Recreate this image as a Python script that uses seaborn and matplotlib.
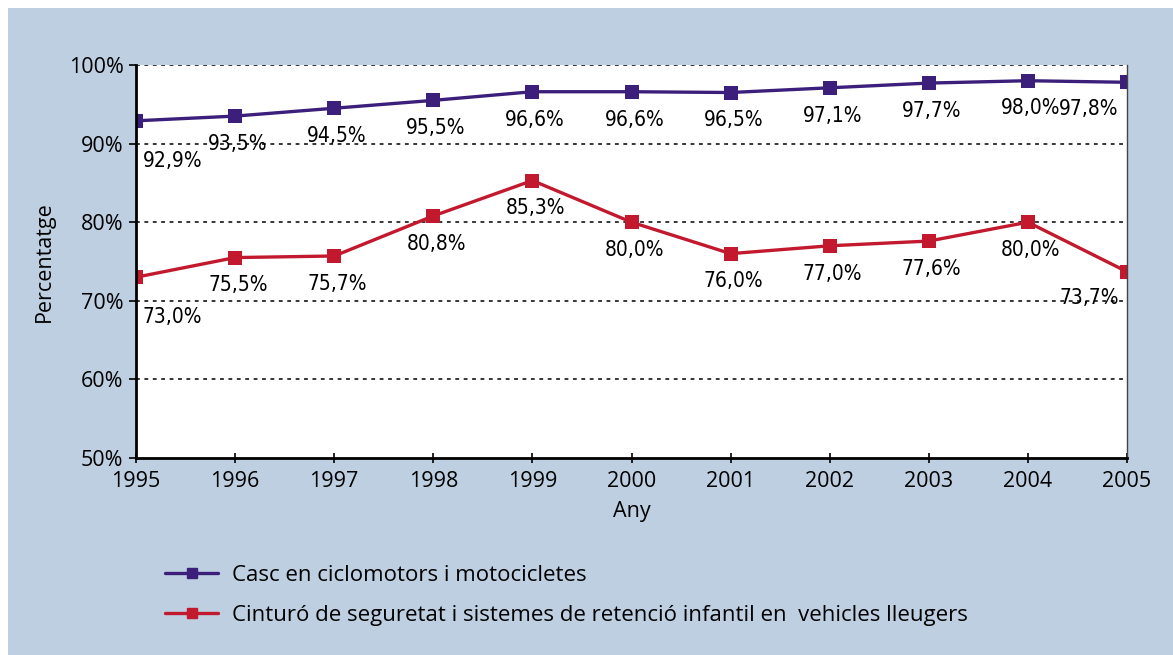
import pandas as pd
import numpy as np
import matplotlib.pyplot as plt
import seaborn as sns
from matplotlib.patches import Rectangle

# --- dades ---
anys = [1995, 1996, 1997, 1998, 1999, 2000, 2001, 2002, 2003, 2004, 2005]
casc = [92.9, 93.5, 94.5, 95.5, 96.6, 96.6, 96.5, 97.1, 97.7, 98.0, 97.8]
cinturo = [73.0, 75.5, 75.7, 80.8, 85.3, 80.0, 76.0, 77.0, 77.6, 80.0, 73.7]

serie_casc = "Casc en ciclomotors i motocicletes"
serie_cint = "Cinturó de seguretat i sistemes de retenció infantil en  vehicles lleugers"

df = pd.DataFrame({
    "Any": anys * 2,
    "Percentatge": casc + cinturo,
    "Serie": [serie_casc] * len(anys) + [serie_cint] * len(anys),
})

colors = {serie_casc: "#3B1F7A", serie_cint: "#C2192F"}
bg = "#BECFE1"

sns.set_theme(style="white")
plt.rcParams['font.family'] = ['Open Sans', 'DejaVu Sans']
plt.rcParams['text.color'] = 'black'
plt.rcParams['axes.labelcolor'] = 'black'
plt.rcParams['xtick.color'] = 'black'
plt.rcParams['ytick.color'] = 'black'

fig = plt.figure(figsize=(11.73, 6.55), dpi=100)
fig.patch.set_facecolor("white")
fig.add_artist(Rectangle((8 / 1173, 0), 1 - 8 / 1173, 1 - 8 / 655,
                         transform=fig.transFigure, facecolor=bg, edgecolor="none", zorder=-10))

ax = fig.add_axes([136 / 1173, 1 - 458 / 655, (1127 - 136) / 1173, (458 - 65) / 655])
ax.set_facecolor("white")

sns.lineplot(data=df, x="Any", y="Percentatge", hue="Serie", palette=colors,
             marker="s", markersize=9.5, markeredgewidth=0, linewidth=2.4,
             ax=ax, legend=False)

ax.set_xlim(1995, 2005)
ax.set_ylim(50, 100)
ax.set_xticks(anys)
ax.set_yticks([50, 60, 70, 80, 90, 100])
ax.set_yticklabels([f"{v}%" for v in [50, 60, 70, 80, 90, 100]])

for v in [60, 70, 80, 90, 100]:
    ax.axhline(v, color="black", linestyle=(0, (2.5, 3)), linewidth=1.1, zorder=0)

ax.spines["top"].set_visible(False)
ax.spines["left"].set_linewidth(2)
ax.spines["bottom"].set_linewidth(2)
ax.spines["right"].set_linewidth(1)
for s in ["left", "bottom", "right"]:
    ax.spines[s].set_color("black")
ax.spines["right"].set_color("#444444")

ax.tick_params(axis="y", direction="out", length=5, width=1.2, labelsize=15.5, pad=4, left=True)
ax.tick_params(axis="x", direction="inout", length=7, width=1.2, labelsize=15.5, pad=6, bottom=True)
ax.set_xlabel("Any", fontsize=15.5, labelpad=6)
ax.set_ylabel("Percentatge", fontsize=15.5, labelpad=10)

# etiquetes de dades
n = len(anys)
for vals in [casc, cinturo]:
    for i, (x, y) in enumerate(zip(anys, vals)):
        txt = f"{y:.1f}%".replace(".", ",")
        if i == 0:
            off, ha = (5, -29), "left"
        elif i == n - 1:
            off, ha = (-6, -19), "right"
        else:
            off, ha = (2, -20), "center"
        ax.annotate(txt, (x, y), xytext=off, textcoords="offset points",
                    ha=ha, va="center", fontsize=15, family="DejaVu Sans",
                    fontstretch="condensed")

# llegenda
handles = [plt.Line2D([], [], color=colors[s], marker="s", markersize=7, linewidth=2.4)
           for s in [serie_casc, serie_cint]]
fig.legend(handles, [serie_casc, serie_cint], loc="upper left",
           bbox_to_anchor=(145 / 1173, 1 - 545 / 655), frameon=False,
           fontsize=16, handlelength=2.4, labelspacing=0.85, handletextpad=0.6)

fig.savefig("out.png", dpi=100, facecolor=fig.get_facecolor())
